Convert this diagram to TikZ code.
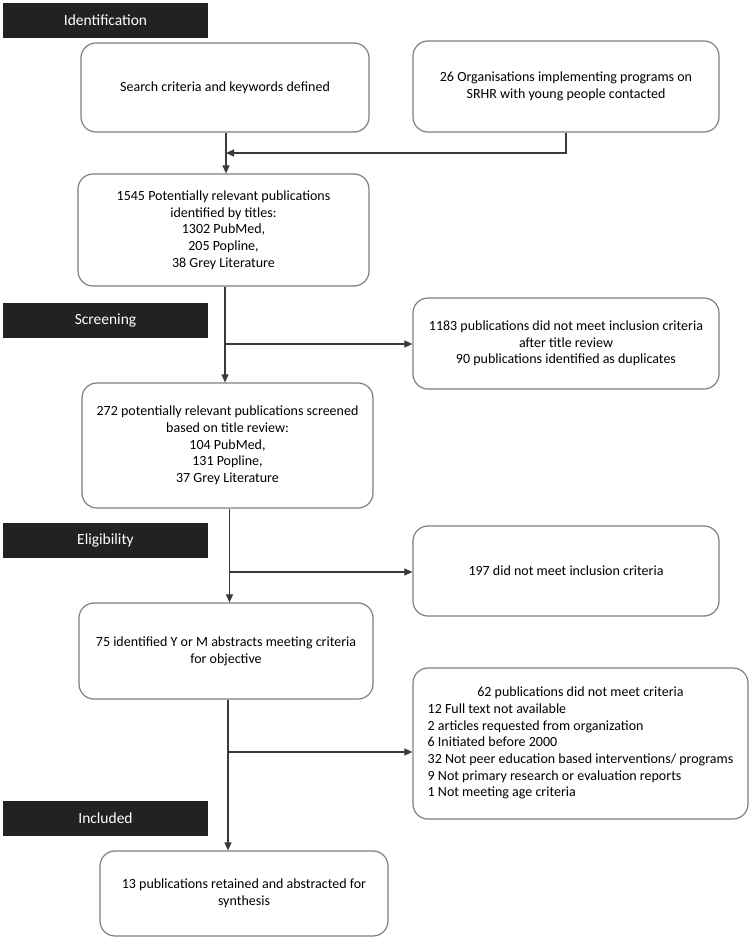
\documentclass[tikz,border=0pt]{standalone}
\usepackage{fontspec}
\setmainfont{Carlito}
\usetikzlibrary{arrows.meta}
\definecolor{boxline}{HTML}{7F7F7F}
\definecolor{conn}{HTML}{3A3A3A}
\definecolor{bar}{HTML}{222222}
\tikzset{
  box/.style={draw=boxline, line width=1.2pt, rounded corners=15pt, align=center,
    font=\fontsize{14}{16.7}\selectfont, inner sep=0pt},
  phase/.style={fill=bar, draw=none, text=white, minimum width=205pt, minimum height=35pt,
    inner sep=0pt, font=\fontsize{15.5}{18}\selectfont},
  conn/.style={draw=conn, line width=1.1pt},
  arr/.style={conn, -{Triangle[length=8pt,width=7pt]}}
}
\begin{document}
\begin{tikzpicture}[x=1pt,y=-1pt]
\useasboundingbox[fill=white] (0,0) rectangle (750,940);
% phase bars
\node[phase] (ph1) at (105.5,20.5) {Identification};
\node[phase] (ph2) at (105.5,320.5) {Screening};
\node[phase] (ph3) at (105.5,540.5) {Eligibility};
\node[phase] (ph4) at (105.5,818.5) {Included};
% boxes
\node[box, minimum width=288pt, minimum height=89pt] (b1) at (225,87.5) {Search criteria and keywords defined};
\node[box, minimum width=306pt, minimum height=91pt] (b2) at (566,86.5) {26 Organisations implementing programs on\\SRHR with young people contacted};
\node[box, minimum width=291pt, minimum height=112pt] (b3) at (223.5,230) {1545 Potentially relevant publications\\identified by titles:\\1302 PubMed,\\205 Popline,\\38 Grey Literature};
\node[box, minimum width=306pt, minimum height=91pt] (b4) at (566,343.5) {1183 publications did not meet inclusion criteria\\after title review\\90 publications identified as duplicates};
\node[box, minimum width=291pt, minimum height=125pt] (b5) at (227.5,445.5) {272 potentially relevant publications screened\\based on title review:\\104 PubMed,\\131 Popline,\\37 Grey Literature};
\node[box, minimum width=306pt, minimum height=90pt] (b7) at (566,571) {197 did not meet inclusion criteria};
\node[box, minimum width=294pt, minimum height=96pt] (b6) at (226,651) {75 identified Y or M abstracts meeting criteria\\for objective};
\node[box, minimum width=335pt, minimum height=151pt] (b8) at (580.5,743.5) {\begin{tabular}{@{}l@{}}\multicolumn{1}{@{}c@{}}{62 publications did not meet criteria}\\
12 Full text not available\\
2 articles requested from organization\\
6 Initiated before 2000\\
32 Not peer education based interventions/ programs\\
9 Not primary research or evaluation reports\\
1 Not meeting age criteria\end{tabular}};
\node[box, minimum width=288pt, minimum height=85pt] (b9) at (244,893.5) {13 publications retained and abstracted for\\synthesis};
% connectors
\coordinate (m1) at (226,153);
\draw[arr] (b1.south -| m1) -- (m1 |- b3.north);
\draw[arr] (b2.south) |- (m1);
\coordinate (c2) at (225,344);
\draw[arr] (c2 |- b3.south) -- (c2 |- b5.north);
\draw[arr] (c2) -- (b4.west |- c2);
\coordinate (c3) at (229.5,572);
\draw[arr] (c3 |- b5.south) -- (c3 |- b6.north);
\draw[arr] (c3) -- (b7.west |- c3);
\coordinate (c4) at (228,752);
\draw[arr] (c4 |- b6.south) -- (c4 |- b9.north);
\draw[arr] (c4) -- (b8.west |- c4);
\end{tikzpicture}
\end{document}
